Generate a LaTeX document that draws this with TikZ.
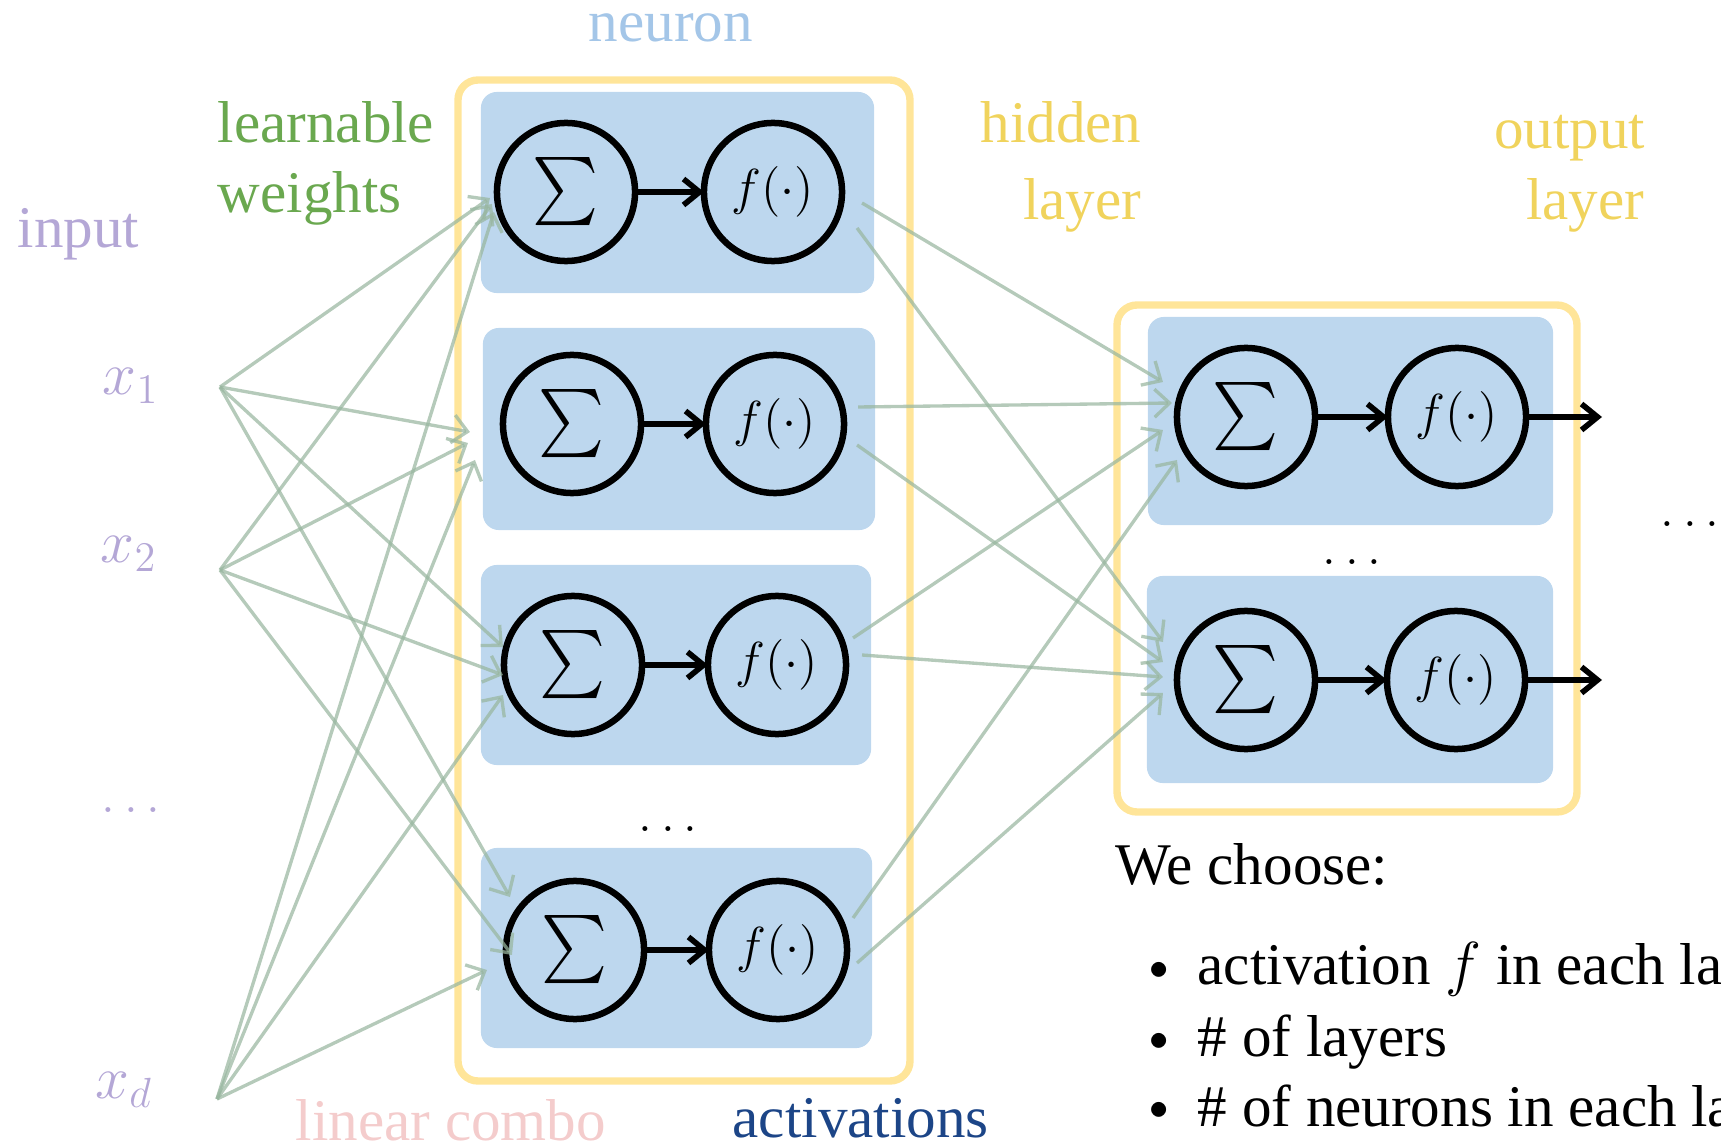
\documentclass[tikz,border=0pt]{standalone}
\usepackage[no-math]{fontspec}
\setmainfont{Liberation Serif}
\usepackage{exscale}
\usepackage{graphicx}
\usetikzlibrary{arrows.meta,calc}

\definecolor{boxblue}{HTML}{BDD7EE}
\definecolor{frameyellow}{HTML}{FFE599}
\definecolor{wire}{HTML}{98B69F}
\definecolor{neuroncol}{HTML}{A4C6E8}
\definecolor{inputcol}{HTML}{B4A7D6}
\definecolor{weightcol}{HTML}{6AA84F}
\definecolor{layercol}{HTML}{F0D35C}
\definecolor{combocol}{HTML}{F4CCCC}
\definecolor{actcol}{HTML}{1C4587}

\newcommand{\sumsign}{\scalebox{1.03}[1.12]{$\sum$}}

\begin{document}
\begin{tikzpicture}[x=0.01cm,y=-0.01cm,
  lbl/.style={inner sep=0,font=\fontsize{16.8}{20}\selectfont},
  frame/.style={draw=frameyellow,line width=2.1pt,rounded corners=0.2cm},
  cell/.style={fill=boxblue,rounded corners=0.16cm,inner sep=0},
  unit/.style={circle,draw=black,line width=1.85pt,minimum size=1.38cm,inner sep=0,outer sep=0},
  sumnode/.style={unit,font=\fontsize{19}{22}\selectfont},
  actnode/.style={unit,font=\fontsize{15.6}{19}\selectfont},
  link/.style={draw=wire,draw opacity=0.72,line width=0.95pt,
    -{Straight Barb[length=1.5mm,width=2.8mm]}},
  pass/.style={draw=black,line width=1.6pt,-{Straight Barb[length=1.6mm,width=2.6mm]}},
  dotsnode/.style={inner sep=0,font=\fontsize{15.4}{19}\selectfont},
  mathlbl/.style={inner sep=0,font=\fontsize{16.5}{20}\selectfont},
]
\useasboundingbox (0,0) rectangle (1721,1146);

% layer frames
\draw[frame] (458,80) rectangle (910,1081);
\draw[frame] (1117,305) rectangle (1577,812);

% neuron cells of the hidden layer
\node[cell,minimum width=3.93cm,minimum height=2.01cm] (b1) at (677.5,192.5) {};
\node[cell,minimum width=3.92cm,minimum height=2.02cm] (b2) at (679,429) {};
\node[cell,minimum width=3.90cm,minimum height=2.00cm] (b3) at (676,665) {};
\node[cell,minimum width=3.91cm,minimum height=2.00cm] (b4) at (676.5,948) {};
% neuron cells of the output layer
\node[cell,minimum width=4.05cm,minimum height=2.08cm] (ob1) at (1350.5,421) {};
\node[cell,minimum width=4.06cm,minimum height=2.07cm] (ob2) at (1350,679.5) {};

% inputs
\coordinate (in1) at (220,387);
\coordinate (in2) at (220,570);
\coordinate (ind) at (217,1099);

% summation and activation units
\node[sumnode] (s1) at (566,192) {\sumsign};
\node[actnode] (f1) at (773,192) {$f(\cdot)$};
\node[sumnode] (s2) at (572,424) {\sumsign};
\node[actnode] (f2) at (775,424) {$f(\cdot)$};
\node[sumnode] (s3) at (573,665) {\sumsign};
\node[actnode] (f3) at (777,665) {$f(\cdot)$};
\node[sumnode] (s4) at (575,950) {\sumsign};
\node[actnode] (f4) at (778,950) {$f(\cdot)$};
\node[sumnode] (os1) at (1246,417) {\sumsign};
\node[actnode] (of1) at (1457,417) {$f(\cdot)$};
\node[sumnode] (os2) at (1246,680) {\sumsign};
\node[actnode] (of2) at (1456,680) {$f(\cdot)$};

% weights: inputs to hidden units
\draw[link] (in1) -- ([shift={(-7,6)}]s1.west);
\draw[link] (in2) -- ([shift={(-5,12)}]s1.west);
\draw[link] (ind) -- ([shift={(-3,20)}]s1.west);
\draw[link] (in1) -- ([shift={(-33,8)}]s2.west);
\draw[link] (in2) -- ([shift={(-35,19)}]s2.west);
\draw[link] (ind) -- ([shift={(-28,36)}]s2.west);
\draw[link] (in1) -- ([shift={(-1,-18)}]s3.west);
\draw[link] (in2) -- ([shift={(-1,10)}]s3.west);
\draw[link] (ind) -- ([shift={(-1,30)}]s3.west);
\draw[link] (in1) -- ([shift={(4,-53)}]s4.west);
\draw[link] (in2) -- ([shift={(6,5)}]s4.west);
\draw[link] (ind) -- ([shift={(-19,20)}]s4.west);

% weights: hidden activations to output units
\draw[link] ([shift={(20,11)}]f1.east) -- ([shift={(-14,-35)}]os1.west);
\draw[link] ([shift={(14,-17)}]f2.east) -- ([shift={(-5,-14)}]os1.west);
\draw[link] ([shift={(7,-27)}]f3.east) -- ([shift={(-14,13)}]os1.west);
\draw[link] ([shift={(6,-32)}]f4.east) -- ([shift={(0,43)}]os1.west);
\draw[link] ([shift={(15,36)}]f1.east) -- ([shift={(-14,-38)}]os2.west);
\draw[link] ([shift={(13,21)}]f2.east) -- ([shift={(-14,-18)}]os2.west);
\draw[link] ([shift={(16,-10)}]f3.east) -- ([shift={(-14,-3)}]os2.west);
\draw[link] ([shift={(10,13)}]f4.east) -- ([shift={(-14,13)}]os2.west);

% sum -> activation inside each neuron
\draw[pass] (s1.east) -- (f1.west);
\draw[pass] (s2.east) -- (f2.west);
\draw[pass] (s3.east) -- (f3.west);
\draw[pass] (s4.east) -- (f4.west);
\draw[pass] (os1.east) -- (of1.west);
\draw[pass] (os2.east) -- (of2.west);

% outputs
\coordinate (out1) at (1602,417);
\coordinate (out2) at (1602,680);
\draw[pass] (of1.east) -- (out1);
\draw[pass] (of2.east) -- (out2);

% labels
\node[lbl,text=neuroncol,anchor=base] (tneuron) at (671,42) {neuron};
\node[lbl,text=inputcol,anchor=base west] (tinput) at (17,248) {input};
\node[lbl,text=weightcol,anchor=base west] (tlearn) at (217,143) {learnable};
\node[lbl,text=weightcol,anchor=base west] (tweights) at (217,213) {weights};
\node[lbl,text=layercol,anchor=base east] (thidden) at (1142,143) {hidden};
\node[lbl,text=layercol,anchor=base east] (thlayer) at (1142,220) {layer};
\node[lbl,text=layercol,anchor=base east] (toutput) at (1646,149) {output};
\node[lbl,text=layercol,anchor=base east] (tolayer) at (1645,220) {layer};
\node[lbl,text=combocol,anchor=base west] (tcombo) at (295,1140) {linear combo};
\node[lbl,text=actcol,anchor=base west] (tact) at (732,1137) {activations};

% input symbols
\node[mathlbl,text=inputcol] (tx1) at (131,386) {$x_1$};
\node[mathlbl,text=inputcol] (tx2) at (129,554) {$x_2$};
\node[dotsnode,text=inputcol,anchor=base] (tdin) at (131,812) {$\dots$};
\node[mathlbl,text=inputcol] (txd) at (124,1090) {$x_d$};

% ellipses
\node[dotsnode,anchor=base] (tdhid) at (668,831) {$\dots$};
\node[dotsnode,anchor=base] (tdout) at (1352,564) {$\dots$};
\node[dotsnode,anchor=base] (tdnext) at (1690,527) {$\dots$};

% design choices
\node[lbl,anchor=base west] (tchoose) at (1115,884) {We choose:};
\node[inner sep=0,font=\fontsize{11}{13}\selectfont] (bul1) at (1159,971) {$\bullet$};
\node[inner sep=0,font=\fontsize{11}{13}\selectfont] (bul2) at (1159,1042) {$\bullet$};
\node[inner sep=0,font=\fontsize{11}{13}\selectfont] (bul3) at (1159,1111) {$\bullet$};
\node[lbl,anchor=base west] (titem1) at (1197,984) {activation $f$ in each layer};
\node[lbl,anchor=base west] (titem2) at (1197,1056) {\# of layers};
\node[lbl,anchor=base west] (titem3) at (1197,1126) {\# of neurons in each layer};
\end{tikzpicture}
\end{document}
